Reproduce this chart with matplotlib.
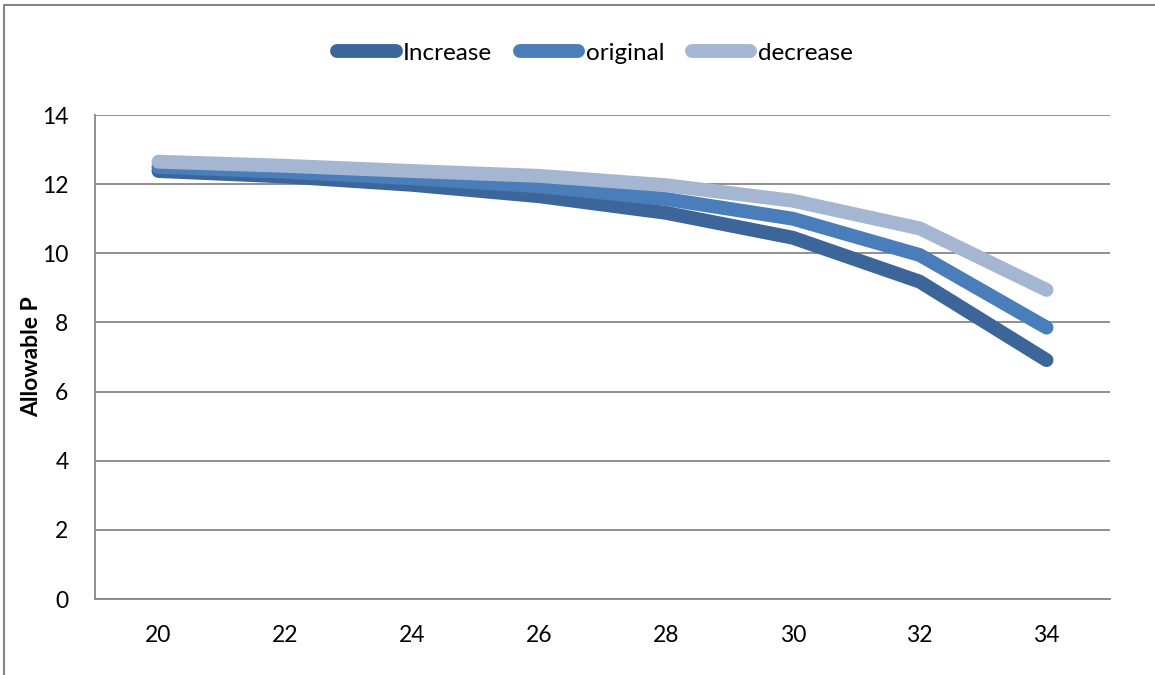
import numpy as np
import matplotlib
matplotlib.use('Agg')
from matplotlib import pyplot as plt
from matplotlib.lines import Line2D

plt.rcParams['font.family'] = ['Lato', 'DejaVu Sans']

# Allowable P against the category value, three cases
categories = [20, 22, 24, 26, 28, 30, 32, 34]
increase = [12.38, 12.22, 11.98, 11.65, 11.17, 10.45, 9.18, 6.91]
original = [12.50, 12.36, 12.17, 11.94, 11.57, 11.00, 9.95, 7.85]
decrease = [12.65, 12.53, 12.38, 12.24, 11.97, 11.52, 10.72, 8.94]

series_names = ['Increase', 'original', 'decrease']
colors = ['#3C6699', '#4A7EBB', '#A5B6D3']

fig = plt.figure(figsize=(11.55, 6.75), dpi=100)
ax = fig.add_axes([95 / 1155, 1 - 599 / 675, 1015 / 1155, 484 / 675])

x_pos = np.arange(len(categories))
for values, name, color in zip([increase, original, decrease], series_names, colors):
    ax.plot(x_pos, values, color=color, lw=10, label=name,
            solid_capstyle='round', solid_joinstyle='round', zorder=3)

ax.set_xlim(-0.5, len(categories) - 0.5)
ax.set_ylim(0, 14)
ax.set_yticks(range(0, 15, 2))
ax.set_xticks(x_pos)
ax.set_xticklabels([str(c) for c in categories])
ax.tick_params(axis='both', length=0, labelsize=16.5, colors='black')
ax.tick_params(axis='y', pad=19)
ax.tick_params(axis='x', pad=19)

ax.grid(axis='y', color='#878787', lw=1.3, zorder=0)
ax.set_axisbelow(True)
for side in ['top', 'right']:
    ax.spines[side].set_visible(False)
for side in ['left', 'bottom']:
    ax.spines[side].set_color('#878787')
    ax.spines[side].set_linewidth(1.3)

ax.set_ylabel('Allowable P', fontsize=16.5, fontweight='bold', labelpad=0)

ax.legend(loc='center', bbox_to_anchor=(595 / 1155, 1 - 53 / 675),
          bbox_transform=fig.transFigure, ncol=3, frameon=False, fontsize=17.5,
          handlelength=2.4, handletextpad=0.3, columnspacing=1.15)

# outer chart frame (left and top edges)
fig.add_artist(Line2D([4 / 1155, 4 / 1155, 1.0], [0.0, 1 - 5 / 675, 1 - 5 / 675],
                      transform=fig.transFigure, color='#868686', lw=1.5))

fig.savefig('out.png', dpi=100)
